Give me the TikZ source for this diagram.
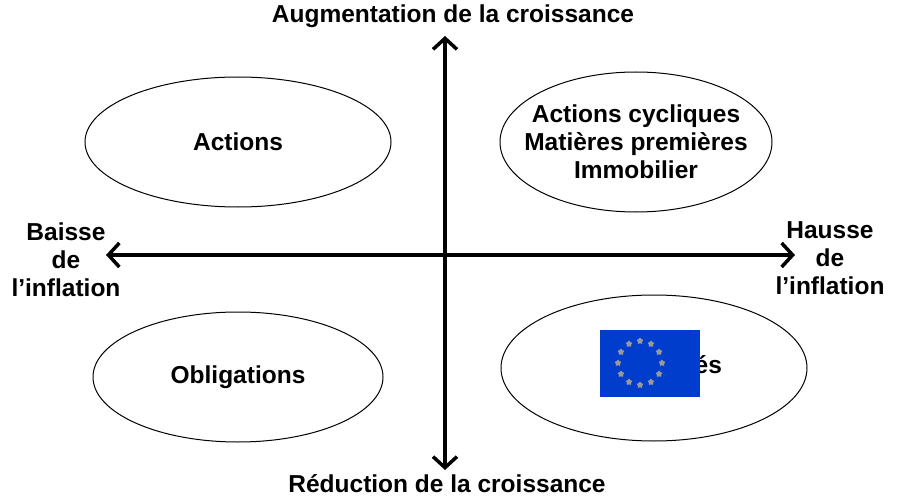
\documentclass[tikz,border=0pt]{standalone}
\usepackage{fontspec}
\setmainfont{Liberation Sans}
\usetikzlibrary{arrows.meta,shapes.geometric,calc}
\begin{document}
\begin{tikzpicture}[x=1pt,y=-1pt,
 lab/.style={font=\bfseries\fontsize{24.5}{28}\selectfont,align=center,inner sep=0pt},
 ell/.style={draw,line width=1pt,ellipse,minimum width=2*#1},
 ax/.style={line width=3.5pt,-{Straight Barb[length=11pt,width=24pt,line width=3.5pt]}}]
\useasboundingbox (0,0) rectangle (900,500);
\node[ell=153,minimum height=130] (e1) at (238,142) {};
\node[ell=136,minimum height=140] (e2) at (636,142) {};
\node[ell=145,minimum height=130] (e3) at (238,377) {};
\node[ell=153,minimum height=146] (e4) at (654,368) {};
\node[lab] (t1) at (e1) {Actions};
\node[lab] (t2) at (e2) {Actions cycliques\\Matières premières\\Immobilier};
\node[lab] (t3) at (e3) {Obligations};
\node[lab] (t4) at (664,367) {Liquidités};
\coordinate (c) at (445,255);
\coordinate (n) at (445,36);
\coordinate (s) at (445,470);
\coordinate (w) at (106,255);
\coordinate (e) at (795,255);
\draw[ax] (c) -- (n);
\draw[ax] (c) -- (s);
\draw[ax] (c) -- (w);
\draw[ax] (c) -- (e);
\node[lab] (top) at (453,16) {Augmentation de la croissance};
\node[lab] (bot) at (447,484) {Réduction de la croissance};
\node[lab] (left) at (66,260) {Baisse\\de\\l’inflation};
\node[lab] (right) at (830,258) {Hausse\\de\\l’inflation};
\fill[blue!70!cyan!80!black] (600,330) rectangle (700,397);
\foreach \a in {0,30,...,330}
  \node[star,star points=5,fill=gray!80,inner sep=0pt,minimum size=7pt] at ($(640,363)+(\a:22)$) {};
\end{tikzpicture}
\end{document}
